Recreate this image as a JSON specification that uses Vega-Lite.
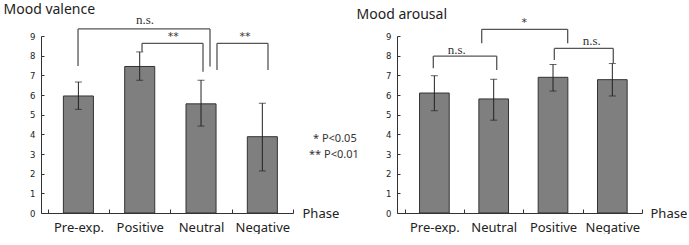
{
  "$schema": "https://vega.github.io/schema/vega-lite/v6.json",
  "background": "white",
  "padding": {"left": 3, "top": 2, "right": 0, "bottom": 0},
  "bounds": "flush",
  "spacing": 104,
  "config": {
    "view": {"stroke": null},
    "axis": {"domainColor": "#333", "tickColor": "#333", "labelColor": "#222", "titleColor": "#222", "grid": false, "titleFontWeight": "normal"},
    "axisY": {"tickSize": -3, "labelOverlap": false, "labelFont": "DejaVu Sans", "labelFontSize": 8.5, "labelPadding": 9, "titleAngle": 0, "titleAlign": "left", "titleBaseline": "middle", "titleFont": "Noto Sans", "titleFontSize": 14}
  },
  "datasets": {
    "valence": [
      {"phase": "Pre-exp.", "mean": 5.95, "lo": 5.27, "hi": 6.66},
      {"phase": "Positive", "mean": 7.45, "lo": 6.75, "hi": 8.19},
      {"phase": "Neutral", "mean": 5.55, "lo": 4.42, "hi": 6.75},
      {"phase": "Negative", "mean": 3.88, "lo": 2.14, "hi": 5.58}
    ],
    "arousal": [
      {"phase": "Pre-exp.", "mean": 6.1, "lo": 5.2, "hi": 6.98},
      {"phase": "Neutral", "mean": 5.8, "lo": 4.72, "hi": 6.8},
      {"phase": "Positive", "mean": 6.9, "lo": 6.2, "hi": 7.55},
      {"phase": "Negative", "mean": 6.78, "lo": 5.95, "hi": 7.6}
    ],
    "valence_brackets": [
      {"label": "n.s.", "x1": 0.993, "x2": 3.146, "top": 9.36, "b1": 7.47, "b2": 7.45, "tx": 2.086, "ty": 9.81},
      {"label": "**", "x1": 2.037, "x2": 3.032, "top": 8.63, "b1": 8.2, "b2": 7.18, "tx": 2.547, "ty": 8.97},
      {"label": "**", "x1": 3.26, "x2": 4.092, "top": 8.63, "b1": 7.27, "b2": 7.27, "tx": 3.717, "ty": 8.97}
    ],
    "arousal_brackets": [
      {"label": "n.s.", "x1": 0.982, "x2": 2.051, "top": 7.98, "b1": 7.36, "b2": 7.27, "tx": 1.376, "ty": 8.29},
      {"label": "*", "x1": 1.798, "x2": 3.247, "top": 9.34, "b1": 8.63, "b2": 8.63, "tx": 2.516, "ty": 9.66},
      {"label": "n.s.", "x1": 3.022, "x2": 4.016, "top": 8.37, "b1": 7.78, "b2": 7.61, "tx": 3.652, "ty": 8.76}
    ],
    "legend": [
      {"text": "* P<0.05", "x": 4.826, "y": 3.76},
      {"text": "** P<0.01", "x": 4.761, "y": 2.95}
    ]
  },
  "hconcat": [
    {
      "width": 252,
      "height": 177,
      "layer": [
        {
          "data": {"name": "valence"},
          "encoding": {
            "x": {"field": "phase", "type": "nominal", "sort": null,
              "scale": {"paddingInner": 0, "paddingOuter": 0.055, "align": 1},
              "axis": {"title": "Phase", "titleX": 261, "titleY": 0, "titleAlign": "left", "titleBaseline": "middle", "titleFont": "Noto Sans", "titleFontSize": 13,
                "labelAngle": 0, "labelFont": "Noto Sans", "labelFontSize": 13, "labelPadding": 12, "tickBand": "extent", "tickSize": -4}}
          },
          "layer": [
            {
              "mark": {"type": "bar", "fill": "#7f7f7f", "stroke": "#333", "strokeWidth": 1, "width": {"band": 0.49}},
              "encoding": {
                "y": {"field": "mean", "type": "quantitative", "scale": {"domain": [0, 9], "nice": false}, "title": "Mood valence",
                  "axis": {"titleX": -38, "titleY": -27, "values": [0, 1, 2, 3, 4, 5, 6, 7, 8, 9]}}
              }
            },
            {
              "mark": {"type": "rule", "color": "#222", "strokeWidth": 1},
              "encoding": {
                "y": {"field": "lo", "type": "quantitative", "scale": {"domain": [0, 9], "nice": false}, "title": "Mood valence", "axis": {"values": [0, 1, 2, 3, 4, 5, 6, 7, 8, 9]}},
                "y2": {"field": "hi"}
              }
            },
            {
              "mark": {"type": "tick", "color": "#222", "size": 7, "thickness": 1, "orient": "horizontal"},
              "encoding": {
                "y": {"field": "lo", "type": "quantitative", "scale": {"domain": [0, 9], "nice": false}, "title": "Mood valence", "axis": {"values": [0, 1, 2, 3, 4, 5, 6, 7, 8, 9]}}
              }
            },
            {
              "mark": {"type": "tick", "color": "#222", "size": 7, "thickness": 1, "orient": "horizontal"},
              "encoding": {
                "y": {"field": "hi", "type": "quantitative", "scale": {"domain": [0, 9], "nice": false}, "title": "Mood valence", "axis": {"values": [0, 1, 2, 3, 4, 5, 6, 7, 8, 9]}}
              }
            }
          ]
        },
        {
          "layer": [
            {
              "data": {"name": "valence_brackets"},
              "layer": [
                {
                  "mark": {"type": "rule", "color": "#555", "strokeWidth": 1.3},
                  "encoding": {
                    "x": {"field": "x1", "type": "quantitative", "scale": {"domain": [0.389, 4.5], "nice": false, "zero": false}, "axis": null},
                    "x2": {"field": "x2"},
                    "y": {"field": "top", "type": "quantitative", "scale": {"domain": [0, 9], "nice": false}, "title": "Mood valence", "axis": {"values": [0, 1, 2, 3, 4, 5, 6, 7, 8, 9]}}
                  }
                },
                {
                  "mark": {"type": "rule", "color": "#555", "strokeWidth": 1.3},
                  "encoding": {
                    "x": {"field": "x1", "type": "quantitative", "scale": {"domain": [0.389, 4.5], "nice": false, "zero": false}, "axis": null},
                    "y": {"field": "b1", "type": "quantitative", "scale": {"domain": [0, 9], "nice": false}, "title": "Mood valence", "axis": {"values": [0, 1, 2, 3, 4, 5, 6, 7, 8, 9]}},
                    "y2": {"field": "top"}
                  }
                },
                {
                  "mark": {"type": "rule", "color": "#555", "strokeWidth": 1.3},
                  "encoding": {
                    "x": {"field": "x2", "type": "quantitative", "scale": {"domain": [0.389, 4.5], "nice": false, "zero": false}, "axis": null},
                    "y": {"field": "b2", "type": "quantitative", "scale": {"domain": [0, 9], "nice": false}, "title": "Mood valence", "axis": {"values": [0, 1, 2, 3, 4, 5, 6, 7, 8, 9]}},
                    "y2": {"field": "top"}
                  }
                },
                {
                  "transform": [{"filter": "datum.label == 'n.s.'"}],
                  "mark": {"type": "text", "font": "Liberation Serif", "fontSize": 13, "color": "#333", "baseline": "middle"},
                  "encoding": {
                    "x": {"field": "tx", "type": "quantitative", "scale": {"domain": [0.389, 4.5], "nice": false, "zero": false}, "axis": null},
                    "y": {"field": "ty", "type": "quantitative", "scale": {"domain": [0, 9], "nice": false}, "title": "Mood valence", "axis": {"values": [0, 1, 2, 3, 4, 5, 6, 7, 8, 9]}},
                    "text": {"field": "label"}
                  }
                },
                {
                  "transform": [{"filter": "datum.label != 'n.s.'"}],
                  "mark": {"type": "text", "font": "DejaVu Sans", "fontSize": 11, "color": "#333", "baseline": "middle"},
                  "encoding": {
                    "x": {"field": "tx", "type": "quantitative", "scale": {"domain": [0.389, 4.5], "nice": false, "zero": false}, "axis": null},
                    "y": {"field": "ty", "type": "quantitative", "scale": {"domain": [0, 9], "nice": false}, "title": "Mood valence", "axis": {"values": [0, 1, 2, 3, 4, 5, 6, 7, 8, 9]}},
                    "text": {"field": "label"}
                  }
                }
              ]
            },
            {
              "data": {"name": "legend"},
              "mark": {"type": "text", "font": "Noto Sans", "fontSize": 11, "color": "#333", "align": "left", "baseline": "middle"},
              "encoding": {
                "x": {"field": "x", "type": "quantitative", "scale": {"domain": [0.389, 4.5], "nice": false, "zero": false}, "axis": null},
                "y": {"field": "y", "type": "quantitative", "scale": {"domain": [0, 9], "nice": false}, "title": "Mood valence", "axis": {"values": [0, 1, 2, 3, 4, 5, 6, 7, 8, 9]}},
                "text": {"field": "text"}
              }
            }
          ]
        }
      ],
      "resolve": {"scale": {"x": "independent"}}
    },
    {
      "width": 245,
      "height": 177,
      "layer": [
        {
          "data": {"name": "arousal"},
          "encoding": {
            "x": {"field": "phase", "type": "nominal", "sort": null,
              "scale": {"paddingInner": 0, "paddingOuter": 0.065, "align": 1},
              "axis": {"title": "Phase", "titleX": 253, "titleY": 0, "titleAlign": "left", "titleBaseline": "middle", "titleFont": "Noto Sans", "titleFontSize": 13,
                "labelAngle": 0, "labelFont": "Noto Sans", "labelFontSize": 13, "labelPadding": 12, "tickBand": "extent", "tickSize": -4}}
          },
          "layer": [
            {
              "mark": {"type": "bar", "fill": "#7f7f7f", "stroke": "#333", "strokeWidth": 1, "width": {"band": 0.5}},
              "encoding": {
                "y": {"field": "mean", "type": "quantitative", "scale": {"domain": [0, 9], "nice": false}, "title": "Mood arousal",
                  "axis": {"titleX": -41, "titleY": -22, "values": [0, 1, 2, 3, 4, 5, 6, 7, 8, 9]}}
              }
            },
            {
              "mark": {"type": "rule", "color": "#222", "strokeWidth": 1},
              "encoding": {
                "y": {"field": "lo", "type": "quantitative", "scale": {"domain": [0, 9], "nice": false}, "title": "Mood arousal", "axis": {"values": [0, 1, 2, 3, 4, 5, 6, 7, 8, 9]}},
                "y2": {"field": "hi"}
              }
            },
            {
              "mark": {"type": "tick", "color": "#222", "size": 7, "thickness": 1, "orient": "horizontal"},
              "encoding": {
                "y": {"field": "lo", "type": "quantitative", "scale": {"domain": [0, 9], "nice": false}, "title": "Mood arousal", "axis": {"values": [0, 1, 2, 3, 4, 5, 6, 7, 8, 9]}}
              }
            },
            {
              "mark": {"type": "tick", "color": "#222", "size": 7, "thickness": 1, "orient": "horizontal"},
              "encoding": {
                "y": {"field": "hi", "type": "quantitative", "scale": {"domain": [0, 9], "nice": false}, "title": "Mood arousal", "axis": {"values": [0, 1, 2, 3, 4, 5, 6, 7, 8, 9]}}
              }
            }
          ]
        },
        {
          "data": {"name": "arousal_brackets"},
          "layer": [
            {
              "mark": {"type": "rule", "color": "#555", "strokeWidth": 1.3},
              "encoding": {
                "x": {"field": "x1", "type": "quantitative", "scale": {"domain": [0.37, 4.5], "nice": false, "zero": false}, "axis": null},
                "x2": {"field": "x2"},
                "y": {"field": "top", "type": "quantitative", "scale": {"domain": [0, 9], "nice": false}, "title": "Mood arousal", "axis": {"values": [0, 1, 2, 3, 4, 5, 6, 7, 8, 9]}}
              }
            },
            {
              "mark": {"type": "rule", "color": "#555", "strokeWidth": 1.3},
              "encoding": {
                "x": {"field": "x1", "type": "quantitative", "scale": {"domain": [0.37, 4.5], "nice": false, "zero": false}, "axis": null},
                "y": {"field": "b1", "type": "quantitative", "scale": {"domain": [0, 9], "nice": false}, "title": "Mood arousal", "axis": {"values": [0, 1, 2, 3, 4, 5, 6, 7, 8, 9]}},
                "y2": {"field": "top"}
              }
            },
            {
              "mark": {"type": "rule", "color": "#555", "strokeWidth": 1.3},
              "encoding": {
                "x": {"field": "x2", "type": "quantitative", "scale": {"domain": [0.37, 4.5], "nice": false, "zero": false}, "axis": null},
                "y": {"field": "b2", "type": "quantitative", "scale": {"domain": [0, 9], "nice": false}, "title": "Mood arousal", "axis": {"values": [0, 1, 2, 3, 4, 5, 6, 7, 8, 9]}},
                "y2": {"field": "top"}
              }
            },
            {
              "transform": [{"filter": "datum.label == 'n.s.'"}],
              "mark": {"type": "text", "font": "Liberation Serif", "fontSize": 13, "color": "#333", "baseline": "middle"},
              "encoding": {
                "x": {"field": "tx", "type": "quantitative", "scale": {"domain": [0.37, 4.5], "nice": false, "zero": false}, "axis": null},
                "y": {"field": "ty", "type": "quantitative", "scale": {"domain": [0, 9], "nice": false}, "title": "Mood arousal", "axis": {"values": [0, 1, 2, 3, 4, 5, 6, 7, 8, 9]}},
                "text": {"field": "label"}
              }
            },
            {
              "transform": [{"filter": "datum.label != 'n.s.'"}],
              "mark": {"type": "text", "font": "DejaVu Sans", "fontSize": 11, "color": "#333", "baseline": "middle"},
              "encoding": {
                "x": {"field": "tx", "type": "quantitative", "scale": {"domain": [0.37, 4.5], "nice": false, "zero": false}, "axis": null},
                "y": {"field": "ty", "type": "quantitative", "scale": {"domain": [0, 9], "nice": false}, "title": "Mood arousal", "axis": {"values": [0, 1, 2, 3, 4, 5, 6, 7, 8, 9]}},
                "text": {"field": "label"}
              }
            }
          ]
        }
      ],
      "resolve": {"scale": {"x": "independent"}}
    }
  ]
}
